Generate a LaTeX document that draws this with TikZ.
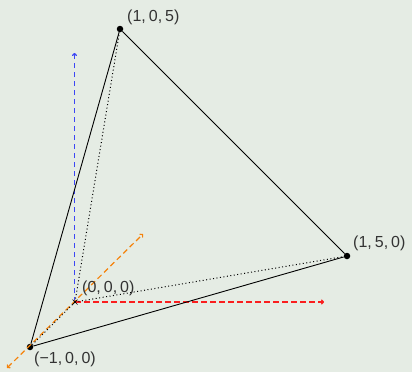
\documentclass[tikz,border=0pt]{standalone}
\usepackage{fontspec}
\setmainfont{Liberation Sans}
\usetikzlibrary{arrows.meta}
\definecolor{bg}{RGB}{229,236,228}
\definecolor{axblue}{RGB}{60,70,245}
\definecolor{axred}{RGB}{250,30,30}
\definecolor{axorange}{RGB}{245,130,10}
\newcommand{\cs}{,\hspace{3pt}}
\begin{document}
\begin{tikzpicture}[x=1pt,y=-1pt,
  axis/.style={line width=1.2pt,dash pattern=on 5.5pt off 3.5pt,-{To[length=3pt,width=5pt]}},
  edge/.style={line width=0.9pt,black},
  hid/.style={line width=1pt,black,dash pattern=on 1pt off 2.5pt},
  pt/.style={circle,fill=black,inner sep=0pt,minimum size=6.5pt},
  lbl/.style={font=\fontsize{16}{18}\selectfont,inner sep=1pt,text=black!80}]
\fill[bg] (0,0) rectangle (412,372);
\useasboundingbox (0,0) rectangle (412,372);
% points
\coordinate (O) at (75,302);
\node[pt] (A) at (30,347) {};
\node[pt] (B) at (120,29) {};
\node[pt] (C) at (347,256) {};
\coordinate (O2) at (74.5,302);
\coordinate (blueEnd) at (74.5,53);
\coordinate (redEnd) at (324,302);
\coordinate (orA) at (7,368);
\coordinate (orB) at (143,234);
% axes
\draw[axis,draw=axblue] (O2) -- (blueEnd);
\draw[axis,draw=axred] (O) -- (redEnd);
\draw[axis,draw=axorange,{To[length=3pt,width=5pt]}-{To[length=3pt,width=5pt]}] (orA) -- (orB);
% hidden edges
\draw[hid] (O) -- (A);
\draw[hid] (O) -- (B);
\draw[hid] (O) -- (C);
% visible edges
\draw[edge] (A) -- (B) -- (C) -- (A);
% origin mark
\draw[line width=0.7pt,black] ([shift={(-2.5,-2.5)}]O) -- ([shift={(2.5,2.5)}]O)
  ([shift={(-2.5,2.5)}]O) -- ([shift={(2.5,-2.5)}]O);
% labels
\node[lbl,anchor=west] (lB) at (126,17) {(1\cs 0\cs 5)};
\node[lbl,anchor=west] (lC) at (352,243) {(1\cs 5\cs 0)};
\node[lbl,anchor=west] (lO) at (81,288) {(0\cs 0\cs 0)};
\node[lbl,anchor=west] (lA) at (33,359) {(−1\cs 0\cs 0)};
\end{tikzpicture}
\end{document}
